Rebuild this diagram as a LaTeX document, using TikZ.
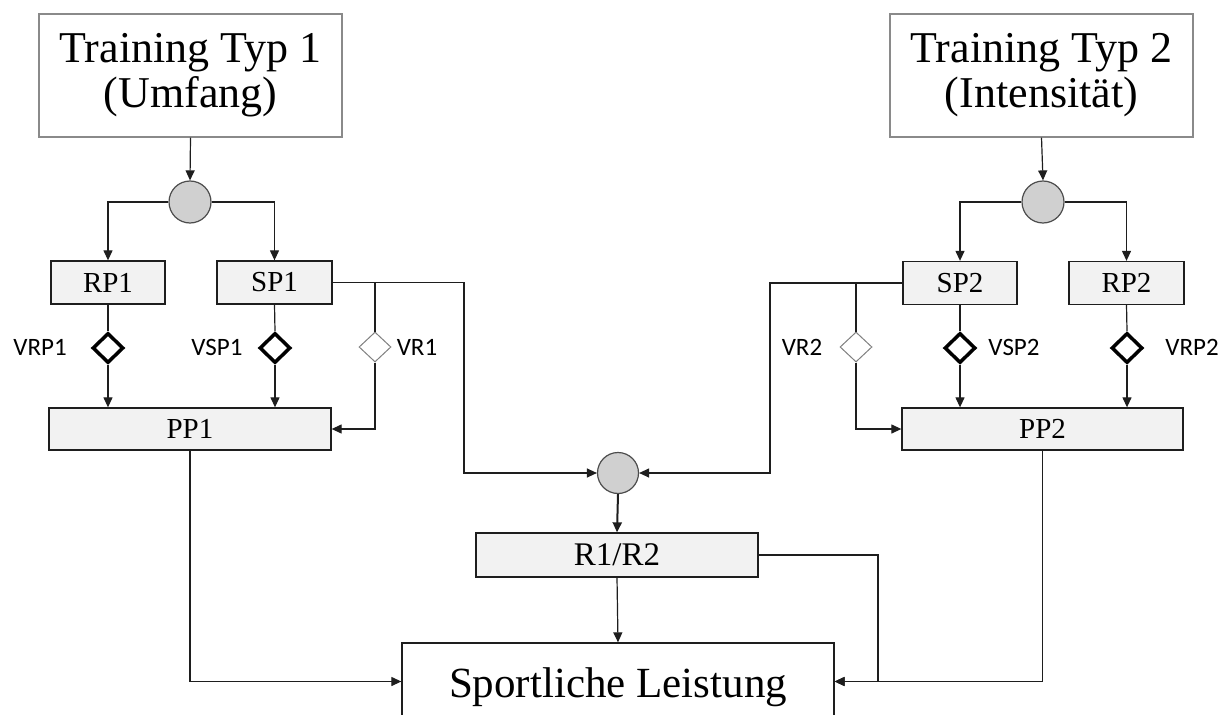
\documentclass[tikz,border=0pt]{standalone}
\usepackage{fontspec}
\setmainfont{Liberation Serif}
\newfontfamily\lblfont{Carlito}
\usetikzlibrary{arrows.meta,shapes.geometric}
\definecolor{boxfill}{HTML}{F2F2F2}
\definecolor{circfill}{HTML}{D0D0D0}
\definecolor{lineblk}{HTML}{1E1E1E}
\definecolor{topborder}{HTML}{8A8A8A}
\tikzset{
  topbox/.style={draw=topborder, line width=1.2pt, fill=white, minimum width=303pt, minimum height=123pt, inner sep=0pt, align=center, font=\fontsize{44}{45}\selectfont},
  midbox/.style={draw=lineblk, line width=1.3pt, fill=boxfill, inner sep=0pt, font=\fontsize{29}{30}\selectfont},
  joint/.style={circle, draw=black!70, line width=1.2pt, fill=circfill, minimum size=42pt, inner sep=0pt},
  thickdia/.style={diamond, draw=black, line width=3.5pt, minimum width=31pt, minimum height=30pt, inner sep=0pt, fill=white},
  thindia/.style={diamond, draw=black!50, line width=1pt, minimum width=32pt, minimum height=30pt, inner sep=0pt, fill=white},
  lbl/.style={font=\lblfont\fontsize{25}{26}\selectfont, inner sep=0pt},
  conn/.style={draw=lineblk, line width=1.2pt},
  arr/.style={conn, -{Triangle[length=10pt,width=9pt]}},
}
\begin{document}
\begin{tikzpicture}[x=1pt,y=-1pt]
\useasboundingbox (0,0) rectangle (1222,714);
% top boxes
\node[topbox] (t1) at (190.5,75.5) {Training Typ 1\\(Umfang)};
\node[topbox] (t2) at (1041.5,75.5) {Training Typ 2\\(Intensität)};
% joints
\node[joint] (c1) at (190,202) {};
\node[joint] (c2) at (1043,202) {};
\node[joint, minimum size=41pt] (c3) at (618,473) {};
% second row boxes
\node[midbox, minimum width=114pt, minimum height=43pt] (rp1) at (108,282.5) {RP1};
\node[midbox, minimum width=115pt, minimum height=43pt] (sp1) at (274.5,282.5) {SP1};
\node[midbox, minimum width=114pt, minimum height=43pt] (sp2) at (960,283) {SP2};
\node[midbox, minimum width=115pt, minimum height=43pt] (rp2) at (1126.5,283) {RP2};
% diamonds
\node[thickdia] (drp1) at (108,348) {};
\node[thickdia] (dsp1) at (275,348) {};
\node[thindia] (dvr1) at (375,347) {};
\node[thickdia] (dsp2) at (960,348) {};
\node[thickdia] (drp2) at (1127,348) {};
\node[thindia] (dvr2) at (856,347) {};
% labels
\node[lbl] (lvrp1) at (40,347) {VRP1};
\node[lbl] (lvsp1) at (217,347) {VSP1};
\node[lbl] (lvr1) at (417,347) {VR1};
\node[lbl] (lvr2) at (802,347) {VR2};
\node[lbl] (lvsp2) at (1014,347) {VSP2};
\node[lbl] (lvrp2) at (1192,347) {VRP2};
% PP boxes
\node[midbox, minimum width=282pt, minimum height=42pt] (pp1) at (190,429) {PP1};
\node[midbox, minimum width=281pt, minimum height=42pt] (pp2) at (1042.5,429) {PP2};
% R1/R2
\node[midbox, minimum width=282pt, minimum height=44pt, font=\fontsize{33}{34}\selectfont] (r12) at (617,555) {R1/R2};
% Sportliche Leistung
\node[draw=lineblk, line width=1.3pt, fill=white, minimum width=432pt, minimum height=77pt, inner sep=0pt] (sl) at (618,681.5) {};
\node[anchor=base, inner sep=0pt, font=\fontsize{43}{44}\selectfont] (sltext) at (618,697) {Sportliche Leistung};
% helper coordinates
\coordinate (k1) at (464,473);
\coordinate (k2) at (770,473);
\coordinate (k3) at (878,681.5);
% connectors top
\draw[arr] (t1.south) -- (c1.north);
\draw[arr] (t2.south) -- (c2.north);
\draw[arr] (c1.west) -| (rp1.north);
\draw[arr] (c1.east) -| (sp1.north);
\draw[arr] (c2.west) -| (sp2.north);
\draw[arr] (c2.east) -| (rp2.north);
% diamonds to PP
\draw[conn] (rp1.south) -- (drp1.north);
\draw[arr] (drp1.south) -- (drp1.south |- pp1.north);
\draw[conn] (sp1.south) -- (dsp1.north);
\draw[arr] (dsp1.south) -- (dsp1.south |- pp1.north);
\draw[conn] (sp2.south) -- (dsp2.north);
\draw[arr] (dsp2.south) -- (dsp2.south |- pp2.north);
\draw[conn] (rp2.south) -- (drp2.north);
\draw[arr] (drp2.south) -- (drp2.south |- pp2.north);
% VR branches
\draw[arr] (sp1.east) -| (k1) -- (c3.west);
\draw[conn] (dvr1.north) -- (dvr1.north |- sp1.east);
\draw[arr] (dvr1.south) |- (pp1.east);
\draw[arr] (sp2.west) -| (k2) -- (c3.east);
\draw[conn] (dvr2.north) -- (dvr2.north |- sp2.west);
\draw[arr] (dvr2.south) |- (pp2.west);
% result
\draw[arr, line width=2pt] (c3.south) -- (r12.north);
\draw[arr] (r12.south) -- (sl.north);
\draw[arr] (pp1.south) |- (sl.west);
\draw[arr] (r12.east) -| (k3) -- (sl.east);
\draw[arr] (pp2.south) |- (sl.east);
\end{tikzpicture}
\end{document}
